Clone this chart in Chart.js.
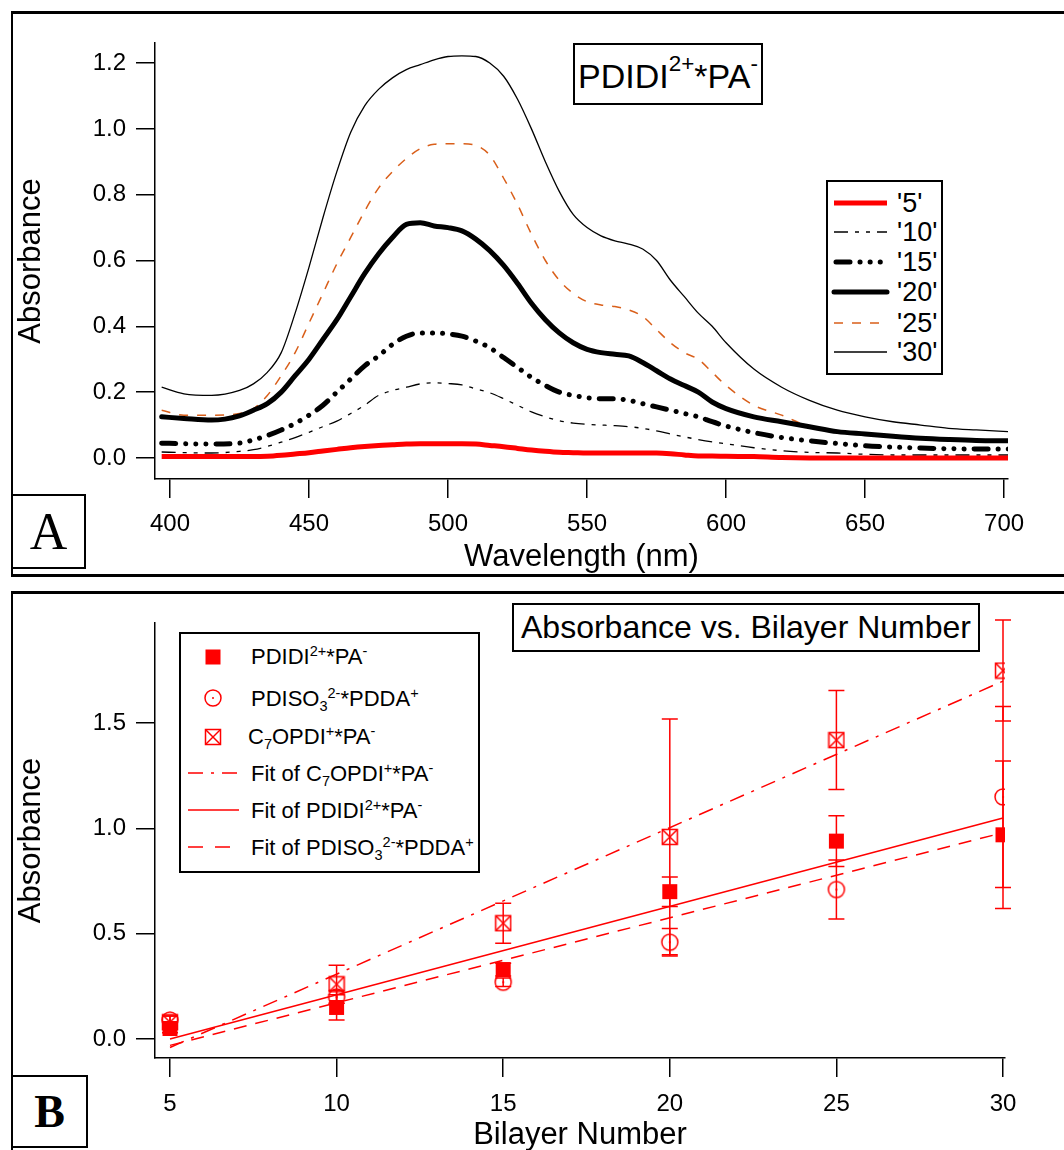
<!DOCTYPE html>
<html><head><meta charset="utf-8">
<script src="https://cdn.jsdelivr.net/npm/chart.js@4.4.1/dist/chart.umd.min.js"></script>
<style>
html,body{margin:0;padding:0;background:#fff;}
body{width:1064px;height:1150px;position:relative;overflow:hidden;font-family:'Liberation Sans',Arial,sans-serif;color:#000;}
.abs{position:absolute;}
sup{font-size:0.66em;vertical-align:baseline;position:relative;top:-0.55em;line-height:0;}
sub{font-size:0.66em;vertical-align:baseline;position:relative;top:0.35em;line-height:0;}
.box{position:absolute;border:2px solid #000;background:#fff;box-sizing:border-box;}
.row{position:absolute;white-space:nowrap;line-height:1;}
.letter{position:absolute;border:2px solid #000;box-sizing:border-box;background:#fff;display:flex;align-items:center;justify-content:center;font-family:'Liberation Serif','Times New Roman',serif;}
</style></head>
<body>
<div class="abs" style="left:11px;top:11px;width:1053px;height:560px;border-top:3px solid #000;border-left:2px solid #000;border-bottom:3px solid #000;"></div>
<div class="abs" style="left:11px;top:591px;width:1053px;height:600px;border-top:3px solid #000;border-left:2px solid #000;"></div>

<canvas id="cA" class="abs" style="left:0;top:0;" width="1064" height="580"></canvas>
<canvas id="cB" class="abs" style="left:0;top:580px;" width="1064" height="578"></canvas>

<!-- Panel A title and legend -->
<div class="box" style="left:573px;top:43px;width:190px;height:62px;display:flex;align-items:center;justify-content:center;font-size:34px;white-space:nowrap;padding-top:4px;">PDIDI<sup>2+</sup>*PA<sup>-</sup></div>
<div class="box" style="left:826px;top:180px;width:117px;height:195px;"></div>
<svg class="abs" style="left:826px;top:180px;" width="117" height="195">
  <line x1="8" y1="23" x2="61" y2="23" stroke="#ff0000" stroke-width="5"/>
  <line x1="8" y1="52" x2="61" y2="52" stroke="#000" stroke-width="1.3" stroke-dasharray="14 7 4 7 4 7"/>
  <line x1="10" y1="82" x2="61" y2="82" stroke="#000" stroke-width="5" stroke-linecap="round" stroke-dasharray="14 10 0.1 10 0.1 10 0.1 10"/>
  <line x1="8" y1="112" x2="61" y2="112" stroke="#000" stroke-width="5" stroke-linecap="round"/>
  <line x1="8" y1="143" x2="61" y2="143" stroke="#d95f1a" stroke-width="1.5" stroke-dasharray="9 9"/>
  <line x1="8" y1="172" x2="61" y2="172" stroke="#000" stroke-width="1.3"/>
</svg>
<div class="row" style="left:897px;top:190px;font-size:27px;">'5'</div>
<div class="row" style="left:897px;top:219px;font-size:27px;">'10'</div>
<div class="row" style="left:897px;top:249px;font-size:27px;">'15'</div>
<div class="row" style="left:897px;top:279px;font-size:27px;">'20'</div>
<div class="row" style="left:897px;top:310px;font-size:27px;">'25'</div>
<div class="row" style="left:897px;top:339px;font-size:27px;">'30'</div>
<div class="letter" style="left:11px;top:494px;width:75px;height:75px;font-size:52px;">A</div>

<!-- Panel B title and legend -->
<div class="box" style="left:512px;top:603px;width:468px;height:49px;display:flex;align-items:center;justify-content:center;font-size:32px;white-space:nowrap;">Absorbance vs. Bilayer Number</div>
<div class="box" style="left:179px;top:632px;width:301px;height:241px;"></div>
<svg class="abs" style="left:179px;top:632px;" width="301" height="241">
  <rect x="26.5" y="17.5" width="15" height="15" fill="#ff0000"/>
  <circle cx="34" cy="66" r="8" fill="none" stroke="#ff0000" stroke-width="1.5"/>
  <circle cx="34" cy="66" r="1" fill="#ff0000"/>
  <rect x="26.5" y="97.5" width="15" height="15" fill="none" stroke="#ff0000" stroke-width="1.5"/>
  <line x1="26.5" y1="97.5" x2="41.5" y2="112.5" stroke="#ff0000" stroke-width="1.5"/>
  <line x1="41.5" y1="97.5" x2="26.5" y2="112.5" stroke="#ff0000" stroke-width="1.5"/>
  <line x1="9" y1="141" x2="60" y2="141" stroke="#ff0000" stroke-width="1.5" stroke-dasharray="15 8 3 8"/>
  <line x1="9" y1="178" x2="60" y2="178" stroke="#ff0000" stroke-width="1.5"/>
  <line x1="9" y1="215" x2="60" y2="215" stroke="#ff0000" stroke-width="1.5" stroke-dasharray="15 12"/>
</svg>
<div class="row" style="left:251px;top:646px;font-size:22px;">PDIDI<sup>2+</sup>*PA<sup>-</sup></div>
<div class="row" style="left:251px;top:688px;font-size:22px;">PDISO<sub>3</sub><sup>2-</sup>*PDDA<sup>+</sup></div>
<div class="row" style="left:248px;top:726px;font-size:22px;">C<sub>7</sub>OPDI<sup>+</sup>*PA<sup>-</sup></div>
<div class="row" style="left:251px;top:763px;font-size:22px;">Fit of C<sub>7</sub>OPDI<sup>+</sup>*PA<sup>-</sup></div>
<div class="row" style="left:251px;top:800px;font-size:22px;">Fit of PDIDI<sup>2+</sup>*PA<sup>-</sup></div>
<div class="row" style="left:251px;top:837px;font-size:22px;">Fit of PDISO<sub>3</sub><sup>2-</sup>*PDDA<sup>+</sup></div>
<div class="letter" style="left:11px;top:1075px;width:77px;height:73px;font-size:46px;font-weight:bold;">B</div>

<script>
// ---------- Panel A data ----------
const wavelengths = [397,405,415,425,430,435,440,445,450,455,460,465,470,475,480,485,490,495,500,505,510,515,520,525,530,535,540,545,550,555,560,565,570,575,580,585,590,595,600,610,620,630,640,650,660,670,680,690,702];
const abs5  = [0.004,0.004,0.004,0.004,0.004,0.005,0.008,0.012,0.016, 0.021,0.026,0.031,0.035,0.038,0.040,0.042,0.043,0.043, 0.043,0.043,0.042,0.038,0.034,0.029,0.024,0.020,0.017, 0.016,0.015,0.015,0.015,0.015,0.015,0.015,0.013,0.009, 0.006,0.006,0.005, 0.004,0.001,0,0,0,0,0,0,0,0];
const abs10 = [0.018,0.016,0.015,0.020,0.025,0.035,0.048,0.062,0.078, 0.095,0.112,0.135,0.160,0.190,0.205,0.215,0.225,0.228, 0.226,0.222,0.210,0.198,0.180,0.160,0.140,0.125,0.113, 0.106,0.102,0.100,0.098,0.095,0.090,0.082,0.073,0.064, 0.056,0.049,0.043, 0.031,0.022,0.017,0.015,0.011,0.009,0.009,0.009,0.009,0.009];
const abs15 = [0.045,0.043,0.042,0.045,0.055,0.068,0.085,0.105,0.130, 0.160,0.200,0.240,0.280,0.310,0.345,0.370,0.380,0.380, 0.377,0.370,0.355,0.335,0.305,0.275,0.245,0.220,0.200, 0.190,0.183,0.180,0.180,0.175,0.165,0.155,0.145,0.135, 0.125,0.110,0.097, 0.077,0.062,0.052,0.044,0.037,0.033,0.030,0.028,0.027,0.027];
const abs20 = [0.125,0.120,0.115,0.128,0.145,0.165,0.200,0.250,0.300, 0.360,0.420,0.490,0.560,0.620,0.670,0.710,0.715,0.705, 0.700,0.690,0.665,0.630,0.585,0.530,0.470,0.420,0.380, 0.350,0.330,0.320,0.315,0.310,0.290,0.265,0.240,0.220, 0.200,0.170,0.150, 0.125,0.110,0.095,0.080,0.073,0.066,0.060,0.056,0.053,0.052];
const abs25 = [0.145,0.130,0.130,0.135,0.150,0.190,0.250,0.320,0.410, 0.500,0.590,0.670,0.750,0.820,0.870,0.910,0.940,0.953, 0.955,0.955,0.950,0.920,0.850,0.770,0.680,0.600,0.540, 0.500,0.475,0.465,0.460,0.450,0.430,0.390,0.350,0.320, 0.300,0.260,0.220, 0.160,0.130,0.095,0.080,0.073,0.066,0.060,0.055,0.050,0.048];
const abs30 = [0.215,0.195,0.190,0.205,0.225,0.260,0.320,0.440,0.580, 0.730,0.870,0.990,1.070,1.120,1.155,1.180,1.195,1.210, 1.220,1.222,1.220,1.200,1.160,1.090,1.000,0.900,0.810, 0.740,0.700,0.675,0.660,0.650,0.635,0.600,0.540,0.490, 0.440,0.400,0.350, 0.270,0.215,0.175,0.145,0.125,0.110,0.100,0.090,0.085,0.080];
const xTicksA = [400,450,500,550,600,650,700];
const yTicksA = [0,0.2,0.4,0.6,0.8,1.0,1.2];

// ---------- Panel B data ----------
const bilayers  = [5,10,15,20,25,30];
const pdidi     = [0.05,0.15,0.33,0.70,0.94,0.97];
const pdidiErr  = [0.02,0.06,0.03,0.07,0.12,0.35];
const pdiso     = [0.09,0.20,0.27,0.46,0.71,1.15];
const pdisoErr  = [0.02,0.03,0.02,0.065,0.14,0.43];
const c7opdi    = [0.08,0.26,0.55,0.96,1.42,1.75];
const c7opdiErr = [0.03,0.09,0.095,0.56,0.235,0.24];
const fitX      = [5,30];
const fitC7     = [-0.04,1.70];
const fitPdidi  = [0.0,1.05];
const fitPdiso  = [-0.03,0.98];
const xTicksB = [5,10,15,20,25,30];
const yTicksB = [0,0.5,1.0,1.5];

const FONT = "'Liberation Sans', Arial, sans-serif";
const RED = '#ff0000';
const pts = (xs, ys) => xs.map((x,i)=>({x:x, y:ys[i]}));

function axisCommon(ticksArr, fmt) {
  return {
    type:'linear',
    afterBuildTicks: s => { s.ticks = ticksArr.map(v=>({value:v})); },
    grid:{drawOnChartArea:false, drawTicks:true, tickLength:19, color:'#000', lineWidth:1.5},
    border:{display:true, color:'#000', width:1.5},
    ticks:{color:'#000', font:{family:FONT, size:24}, autoSkip:false, maxRotation:0, callback: fmt}
  };
}

// ---------- Chart A ----------
const lineDS = (label, data, color, width, dash, cap) => ({
  label, data: pts(wavelengths, data), borderColor: color, borderWidth: width,
  borderDash: dash || [], borderCapStyle: cap || 'butt', pointRadius: 0,
  cubicInterpolationMode: 'monotone', fill: false
});

const xA = axisCommon(xTicksA, v => String(v));
Object.assign(xA, {min:394.6, max:701.4, afterFit: s => { s.height = 101; },
  title:{display:true, text:'Wavelength (nm)', color:'#000', font:{family:FONT, size:31}, padding:{top:0, bottom:4}}});
xA.ticks.padding = 12;
const yA = axisCommon(yTicksA, v => Number(v).toFixed(1));
Object.assign(yA, {min:-0.064, max:1.261, afterFit: s => { s.width = 155; },
  title:{display:true, text:'Absorbance', color:'#000', font:{family:FONT, size:31}, padding:{top:13, bottom:4}}});
yA.ticks.padding = 10;

new Chart(document.getElementById('cA'), {
  type:'line',
  data:{datasets:[
    lineDS("'5'", abs5, RED, 5),
    lineDS("'10'", abs10, '#000', 1.3, [14,7,4,7,4,7]),
    lineDS("'15'", abs15, '#000', 5, [14,10,0.1,10,0.1,10,0.1,10], 'round'),
    lineDS("'20'", abs20, '#000', 5, null, 'round'),
    lineDS("'25'", abs25, '#d95f1a', 1.5, [9,9]),
    lineDS("'30'", abs30, '#000', 1.3)
  ]},
  options:{
    responsive:false, animation:false,
    layout:{padding:{left:0, top:43, right:56, bottom:0}},
    plugins:{legend:{display:false}, tooltip:{enabled:false}},
    scales:{x:xA, y:yA}
  }
});

// ---------- Chart B ----------
function circleDot() {
  const c = document.createElement('canvas'); c.width = 20; c.height = 20;
  const g = c.getContext('2d'); g.strokeStyle = RED; g.lineWidth = 1.5;
  g.beginPath(); g.arc(10,10,8,0,Math.PI*2); g.stroke();
  g.fillStyle = RED; g.beginPath(); g.arc(10,10,1,0,Math.PI*2); g.fill();
  return c;
}
function boxX() {
  const c = document.createElement('canvas'); c.width = 18; c.height = 18;
  const g = c.getContext('2d'); g.strokeStyle = RED; g.lineWidth = 1.5;
  g.strokeRect(1.5,1.5,15,15);
  g.beginPath(); g.moveTo(1.5,1.5); g.lineTo(16.5,16.5); g.moveTo(16.5,1.5); g.lineTo(1.5,16.5); g.stroke();
  return c;
}

const errorSets = [
  {vals:pdidi, errs:pdidiErr},
  {vals:pdiso, errs:pdisoErr},
  {vals:c7opdi, errs:c7opdiErr}
];
const errorBarPlugin = {
  id:'errorBars',
  beforeDatasetsDraw(chart) {
    const ctx = chart.ctx, xs = chart.scales.x, ys = chart.scales.y;
    ctx.save(); ctx.strokeStyle = RED; ctx.lineWidth = 1.5;
    errorSets.forEach(set => {
      bilayers.forEach((b,i) => {
        const x = xs.getPixelForValue(b);
        const yt = ys.getPixelForValue(set.vals[i] + set.errs[i]);
        const yb = ys.getPixelForValue(set.vals[i] - set.errs[i]);
        ctx.beginPath();
        ctx.moveTo(x, yt); ctx.lineTo(x, yb);
        ctx.moveTo(x-8, yt); ctx.lineTo(x+8, yt);
        ctx.moveTo(x-8, yb); ctx.lineTo(x+8, yb);
        ctx.stroke();
      });
    });
    ctx.restore();
  }
};

const xB = axisCommon(xTicksB, v => String(v));
Object.assign(xB, {min:4.55, max:30.06, afterFit: s => { s.height = 100; },
  title:{display:true, text:'Bilayer Number', color:'#000', font:{family:FONT, size:31}, padding:{top:0, bottom:4}}});
xB.ticks.padding = 13;
const yB = axisCommon(yTicksB, v => Number(v).toFixed(1));
Object.assign(yB, {min:-0.09, max:1.976, afterFit: s => { s.width = 155; },
  title:{display:true, text:'Absorbance', color:'#000', font:{family:FONT, size:31}, padding:{top:13, bottom:4}}});
yB.ticks.padding = 10;

new Chart(document.getElementById('cB'), {
  type:'scatter',
  data:{datasets:[
    {label:'PDIDI2+*PA-', data:pts(bilayers,pdidi), pointStyle:'rect', pointRadius:10.6, backgroundColor:RED, borderWidth:0, showLine:false},
    {label:'PDISO3 2-*PDDA+', data:pts(bilayers,pdiso), pointStyle:circleDot(), pointRadius:8, showLine:false},
    {label:'C7OPDI+*PA-', data:pts(bilayers,c7opdi), pointStyle:boxX(), pointRadius:8, showLine:false},
    {label:'Fit of C7OPDI+*PA-', data:pts(fitX,fitC7), showLine:true, pointRadius:0, borderColor:RED, borderWidth:1.5, borderDash:[15,8,3,8]},
    {label:'Fit of PDIDI2+*PA-', data:pts(fitX,fitPdidi), showLine:true, pointRadius:0, borderColor:RED, borderWidth:1.5},
    {label:'Fit of PDISO3 2-*PDDA+', data:pts(fitX,fitPdiso), showLine:true, pointRadius:0, borderColor:RED, borderWidth:1.5, borderDash:[13,9]}
  ]},
  options:{
    responsive:false, animation:false,
    layout:{padding:{left:0, top:43, right:59, bottom:0}},
    plugins:{legend:{display:false}, tooltip:{enabled:false}},
    scales:{x:xB, y:yB}
  },
  plugins:[errorBarPlugin]
});
</script>
</body></html>
